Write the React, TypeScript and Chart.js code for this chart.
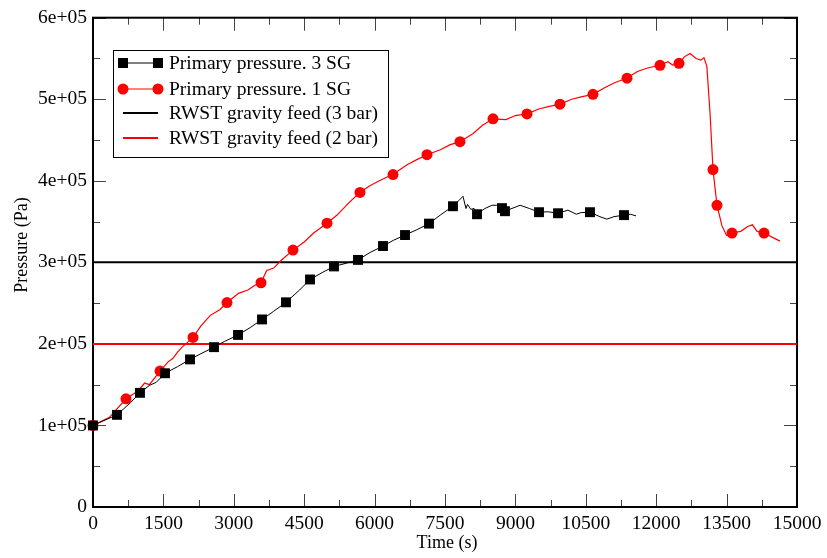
import React, { useEffect, useRef } from "react";
import { Chart, registerables } from "chart.js";

Chart.register(...registerables);

const FONT = "'Liberation Serif', 'Times New Roman', serif";

// ---- Primary pressure, 3 SG (continuous trace) ----
const sg3Time = [
  0, 511, 800, 1001, 1200, 1350, 1534, 1800, 2067, 2300, 2578, 2800, 3090, 3350, 3601, 3850, 4112, 4400,
  4624, 4900, 5135, 5400, 5646, 5900, 6179, 6400, 6648, 6900, 7159, 7400, 7670, 7800, 7883, 7947, 7980,
  8050, 8120, 8182, 8350, 8500, 8600, 8714, 8778, 9100, 9300, 9503, 9700, 9908, 10120, 10300, 10400,
  10589, 10800, 10950, 11100, 11314, 11450, 11570,
];
const sg3Pressure = [
  100000, 113000, 128000, 140000, 149000, 153000, 164000, 172000, 181000, 188000, 196000, 203000, 211000,
  220000, 230000, 240000, 251000, 266000, 279000, 288000, 295000, 299000, 303000, 312000, 320000, 327000,
  333500, 340000, 347500, 358000, 369000, 376000, 381000, 366000, 371000, 365000, 366000, 359000, 366000,
  370000, 370000, 366500, 362700, 370000, 366000, 361500, 362000, 360200, 364000, 359000, 361000, 361500,
  356000, 353000, 356000, 358000, 359000, 357000,
];
const sg3MarkerTime = [
  0, 511, 1001, 1534, 2067, 2578, 3090, 3601, 4112, 4624, 5135, 5646, 6179, 6648, 7159, 7670, 8182, 8714,
  8778, 9503, 9908, 10589, 11314,
];
const sg3MarkerPressure = [
  100000, 113000, 140000, 164000, 181000, 196000, 211000, 230000, 251000, 279000, 295000, 303000, 320000,
  333500, 347500, 368800, 359000, 366500, 362700, 361500, 360200, 361500, 357900,
];

// ---- Primary pressure, 1 SG (continuous trace) ----
const sg1Time = [
  0, 350, 703, 900, 1000, 1100, 1200, 1428, 1600, 1700, 1800, 1900, 2131, 2300, 2500, 2700, 2855, 3100,
  3300, 3450, 3580, 3700, 3850, 4000, 4261, 4500, 4700, 4986, 5200, 5450, 5689, 5900, 6100, 6392, 6700,
  6900, 7116, 7400, 7600, 7819, 8100, 8300, 8523, 8800, 9000, 9247, 9500, 9700, 9950, 10200, 10400, 10653,
  10900, 11100, 11378, 11600, 11800, 12081, 12250, 12350, 12486, 12600, 12721, 12850, 12950, 13018, 13080,
  13150, 13210, 13295, 13400, 13500, 13615, 13800, 13950, 14050, 14150, 14297, 14500, 14638,
];
const sg1Pressure = [
  100000, 110000, 132700, 140000, 145000, 152000, 150000, 166700, 178000, 182000, 190000, 196000, 208000,
  222000, 235000, 242000, 250700, 262000, 266000, 272000, 275000, 290000, 293000, 302000, 315000, 325000,
  336000, 348000, 358000, 373000, 386000, 394000, 400000, 408000, 420000, 426000, 432000, 438000, 444000,
  448000, 458000, 468000, 476000, 475000, 480000, 482000, 488000, 491000, 494000, 500000, 503000, 506000,
  514000, 520000, 526000, 534000, 538000, 542000, 546000, 542000, 544000, 552000, 556000, 550000, 548000,
  551000, 540000, 480000, 414000, 370000, 345000, 333000, 336000, 338000, 344000, 346000, 338000, 336000,
  330000, 326000,
];
const sg1MarkerTime = [
  0, 703, 1428, 2131, 2855, 3580, 4261, 4986, 5689, 6392, 7116, 7819, 8523, 9247, 9950, 10653, 11378,
  12081, 12486, 13210, 13295, 13615, 14297,
];
const sg1MarkerPressure = [
  100000, 132700, 166700, 208000, 250700, 275000, 315000, 348000, 385800, 407700, 432000, 448000, 476000,
  482000, 494000, 506000, 525800, 541600, 544000, 413800, 370000, 335900, 335900,
];

// ---- RWST gravity feed reference levels ----
const rwstTime = [0, 15000];
const rwst3Bar = [300000, 300000];
const rwst2Bar = [200000, 200000];

// ---- Axes ----
const xTicks = [0, 1500, 3000, 4500, 6000, 7500, 9000, 10500, 12000, 13500, 15000];
const yTicks = [0, 100000, 200000, 300000, 400000, 500000, 600000];
const xMinorStep = 750;
const yMinorStep = 50000;

const legendLabels = [
  "Primary pressure. 3 SG",
  "Primary pressure. 1 SG",
  "RWST gravity feed (3 bar)",
  "RWST gravity feed (2 bar)",
];

const pairs = (xs: number[], ys: number[]) => xs.map((x, i) => ({ x, y: ys[i] }));

const fmtY = (v: number) => {
  if (v === 0) return "0";
  const s = v.toExponential(0); // e.g. 6e+5
  return s.replace(/e\+(\d)$/, "e+0$1");
};

const framePlugin = {
  id: "frame",
  beforeDatasetsDraw(chart: any) {
    const { ctx, chartArea } = chart;
    const { left, right, top, bottom } = chartArea;
    const xs = chart.scales.x;
    const ys = chart.scales.y;
    ctx.save();
    ctx.strokeStyle = "#444";
    ctx.lineWidth = 1;
    ctx.beginPath();
    for (let v = xTicks[0]; v <= xTicks[xTicks.length - 1]; v += xMinorStep) {
      const px = Math.round(xs.getPixelForValue(v)) + 0.5;
      const len = xTicks.includes(v) ? 13 : 7;
      ctx.moveTo(px, bottom);
      ctx.lineTo(px, bottom - len);
      ctx.moveTo(px, top);
      ctx.lineTo(px, top + len);
    }
    for (let v = yTicks[0]; v <= yTicks[yTicks.length - 1]; v += yMinorStep) {
      const py = Math.round(ys.getPixelForValue(v)) + 0.5;
      const len = yTicks.includes(v) ? 13 : 7;
      ctx.moveTo(left, py);
      ctx.lineTo(left + len, py);
      ctx.moveTo(right, py);
      ctx.lineTo(right - len, py);
    }
    ctx.stroke();
    ctx.strokeStyle = "#000";
    ctx.lineWidth = 2;
    ctx.strokeRect(left, top, right - left, bottom - top);

    // axis titles
    ctx.fillStyle = "#000";
    ctx.font = `18px ${FONT}`;
    ctx.textAlign = "center";
    ctx.textBaseline = "middle";
    ctx.fillText("Time (s)", (left + right) / 2 + 2, 543);
    ctx.save();
    ctx.translate(22, 245);
    ctx.rotate(-Math.PI / 2);
    ctx.fillText("Pressure (Pa)", 0, 0);
    ctx.restore();
    ctx.restore();
  },
  afterDraw(chart: any) {
    const { ctx } = chart;
    ctx.save();
    // legend box
    ctx.fillStyle = "#fff";
    ctx.fillRect(113, 50, 275, 107);
    ctx.strokeStyle = "#000";
    ctx.lineWidth = 1;
    ctx.strokeRect(113.5, 50.5, 275, 107);
    const rows = [63, 89, 113, 138];
    const colors = ["#000", "#ff0000", "#000", "#ff0000"];
    const x0 = 123;
    const x1 = 158;
    rows.forEach((y, i) => {
      ctx.strokeStyle = colors[i];
      ctx.lineWidth = i < 2 ? 1 : 2;
      ctx.beginPath();
      ctx.moveTo(x0, y);
      ctx.lineTo(x1, y);
      ctx.stroke();
      ctx.fillStyle = colors[i];
      if (i === 0) {
        ctx.fillRect(x0 - 5, y - 5, 10, 10);
        ctx.fillRect(x1 - 5, y - 5, 10, 10);
      } else if (i === 1) {
        ctx.beginPath();
        ctx.arc(x0, y, 5.5, 0, Math.PI * 2);
        ctx.arc(x1, y, 5.5, 0, Math.PI * 2);
        ctx.fill();
      }
      ctx.fillStyle = "#000";
      ctx.font = `19.5px ${FONT}`;
      ctx.textAlign = "left";
      ctx.textBaseline = "middle";
      ctx.fillText(legendLabels[i], 169, y + 1);
    });
    ctx.restore();
  },
};

export default function App() {
  const ref = useRef<HTMLCanvasElement | null>(null);

  useEffect(() => {
    document.body.style.margin = "0";
    const canvas = ref.current;
    if (!canvas) return;
    const chart = new Chart(canvas, {
      type: "scatter",
      data: {
        datasets: [
          {
            label: legendLabels[0],
            data: pairs(sg3MarkerTime, sg3MarkerPressure),
            showLine: false,
            pointStyle: "rect",
            pointRadius: 7,
            pointBackgroundColor: "#000",
            pointBorderWidth: 0,
            clip: false as any,
            order: 1,
          },
          {
            label: legendLabels[1],
            data: pairs(sg1MarkerTime, sg1MarkerPressure),
            showLine: false,
            pointStyle: "circle",
            pointRadius: 5.5,
            pointBackgroundColor: "#ff0000",
            pointBorderWidth: 0,
            clip: false as any,
            order: 1,
          },
          {
            label: legendLabels[0] + " trace",
            data: pairs(sg3Time, sg3Pressure),
            showLine: true,
            borderColor: "#000",
            borderWidth: 1,
            pointRadius: 0,
            order: 5,
          },
          {
            label: legendLabels[1] + " trace",
            data: pairs(sg1Time, sg1Pressure),
            showLine: true,
            borderColor: "#ff0000",
            borderWidth: 1.2,
            pointRadius: 0,
            order: 5,
          },
          {
            label: legendLabels[2],
            data: pairs(rwstTime, rwst3Bar),
            showLine: true,
            borderColor: "#000",
            borderWidth: 2,
            pointRadius: 0,
            order: 10,
          },
          {
            label: legendLabels[3],
            data: pairs(rwstTime, rwst2Bar),
            showLine: true,
            borderColor: "#ff0000",
            borderWidth: 2,
            pointRadius: 0,
            order: 10,
          },
        ],
      },
      options: {
        animation: false,
        responsive: false,
        devicePixelRatio: 1,
        layout: { padding: { top: 14, right: 30, left: 0, bottom: 0 } },
        plugins: {
          legend: { display: false },
          tooltip: { enabled: false },
        },
        scales: {
          x: {
            type: "linear",
            min: 0,
            max: 15000,
            afterFit: (s: any) => {
              s.height = 51;
            },
            afterBuildTicks: (s: any) => {
              s.ticks = xTicks.map((v) => ({ value: v }));
            },
            grid: { display: false, drawTicks: false },
            border: { display: false },
            ticks: {
              autoSkip: false,
              maxRotation: 0,
              padding: 5,
              color: "#000",
              font: { family: FONT, size: 19.5 },
              callback: (v: any) => String(v),
            },
          },
          y: {
            type: "linear",
            min: 0,
            max: 600000,
            afterFit: (s: any) => {
              s.width = 93;
            },
            afterBuildTicks: (s: any) => {
              s.ticks = yTicks.map((v) => ({ value: v }));
            },
            grid: { display: false, drawTicks: false },
            border: { display: false },
            ticks: {
              autoSkip: false,
              padding: 6,
              color: "#000",
              font: { family: FONT, size: 19.5 },
              callback: (v: any) => fmtY(Number(v)),
            },
          },
        },
      },
      plugins: [framePlugin],
    });
    return () => chart.destroy();
  }, []);

  return (
    <div style={{ width: 827, height: 558, background: "#fff" }}>
      <canvas ref={ref} width={827} height={558} style={{ display: "block", width: 827, height: 558 }} />
    </div>
  );
}
